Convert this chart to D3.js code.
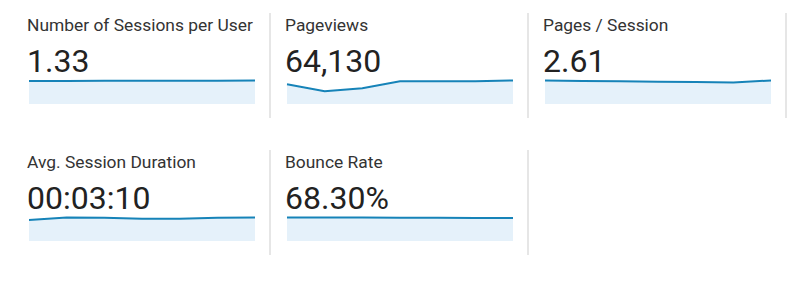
<!DOCTYPE html>
<html>
<head>
<meta charset="utf-8">
<script src="https://cdn.jsdelivr.net/npm/d3@7"></script>
<style>
    body { margin: 0; background: #ffffff; }
    svg { display: block; font-family: Roboto, "Noto Sans", sans-serif; }
</style>
</head>
<body>
<svg id="tablero"></svg>
<script>
// metricas (titulo + valor mostrado)
const titulos = ['Number of Sessions per User', 'Pageviews', 'Pages / Session',
                 'Avg. Session Duration', 'Bounce Rate'];
const valores = ['1.33', '64,130', '2.61', '00:03:10', '68.30%'];

// series de cada sparkline (7 puntos)
const sesionesUsuario = [1.32, 1.32, 1.33, 1.33, 1.33, 1.34, 1.35];
const paginasVistas = [9000, 5850, 7250, 10450, 10450, 10370, 10760];
const paginasSesion = [2.70, 2.63, 2.60, 2.55, 2.53, 2.48, 2.70];
const duracion = [176, 196, 194, 187, 186, 194, 197];
const rebote = [69.3, 69.2, 69.0, 68.6, 68.2, 68.0, 67.9];

const series = [sesionesUsuario, paginasVistas, paginasSesion, duracion, rebote];

const ancho = 800;
const alto = 284;
const paso_x = 258;   // distancia entre columnas
const paso_y = 137;   // distancia entre filas
const ancho_g = 226;  // ancho del sparkline
const alto_g = 23.5;  // alto del sparkline

const svg = d3.select('#tablero').attr('width', ancho).attr('height', alto);

function dibujaTile (i) {
    const col = i % 3;
    const fila = Math.floor(i / 3);
    const x0 = 29 + col * paso_x;
    const y0 = fila * paso_y;
    const data = series[i];

    const g = svg.append('g')
        .attr('transform', 'translate(' + x0 + ',' + y0 + ')');

    // separador vertical a la derecha
    g.append('line')
        .attr('x1', 241).attr('x2', 241)
        .attr('y1', 13).attr('y2', 118)
        .attr('stroke', '#d6d6d6')
        .attr('stroke-width', 1.2);

    g.append('text')
        .attr('x', -2)
        .attr('y', 31)
        .style('font-size', '17.4px')
        .style('fill', '#333333')
        .text(titulos[i]);

    g.append('text')
        .attr('x', -2)
        .attr('y', 72)
        .style('font-size', '32px')
        .style('fill', '#222222')
        .text(valores[i]);

    let miEscalaX = d3.scaleLinear().domain([0, data.length - 1]).range([0, ancho_g]);
    let miEscalaY = d3.scaleLinear().domain([0, d3.max(data)]).range([104, 104 - alto_g]);

    const area = d3.area()
        .x(function (d, j) { return miEscalaX(j); })
        .y0(104)
        .y1(function (d) { return miEscalaY(d); });

    const linea = d3.line()
        .x(function (d, j) { return miEscalaX(j); })
        .y(function (d) { return miEscalaY(d); });

    g.append('path')
        .attr('d', area(data))
        .attr('fill', '#e5f1fa');

    g.append('path')
        .attr('d', linea(data))
        .attr('fill', 'none')
        .attr('stroke', '#1683b8')
        .attr('stroke-width', 2);
}

for (let i = 0; i < titulos.length; i++) {
    dibujaTile(i);
}
</script>
</body>
</html>
